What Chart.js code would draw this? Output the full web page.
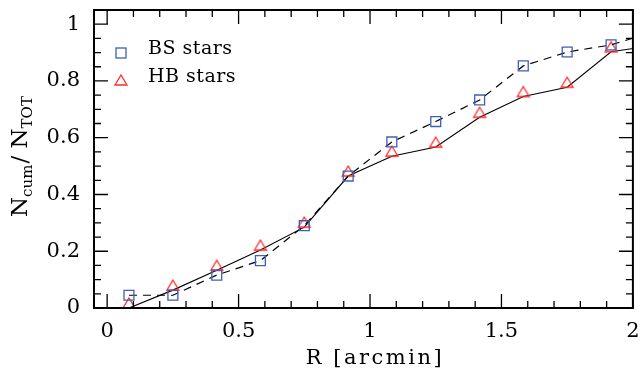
<!DOCTYPE html>
<html>
<head>
<meta charset="utf-8">
<script src="https://cdn.jsdelivr.net/npm/chart.js@4"></script>
<style>
  html, body { margin: 0; padding: 0; background: #fff; }
  #wrap { width: 642px; height: 372px; }
</style>
</head>
<body>
<div id="wrap"><canvas id="chart" width="642" height="372"></canvas></div>
<script>
// ---- data ----
const radius = [0.083, 0.25, 0.417, 0.583, 0.75, 0.917, 1.083, 1.25, 1.417, 1.583, 1.75, 1.917, 2.083];
const bsStars = [0.045, 0.045, 0.116, 0.167, 0.29, 0.465, 0.585, 0.657, 0.733, 0.853, 0.902, 0.927, 0.975];
const hbStars = [0.0, 0.063, 0.133, 0.204, 0.285, 0.465, 0.535, 0.567, 0.672, 0.745, 0.778, 0.903, 0.926];
const xTicks = [0, 0.5, 1, 1.5, 2];
const yTicks = [0, 0.2, 0.4, 0.6, 0.8, 1];

const FONT = "'DejaVu Serif', 'Liberation Serif', serif";
const BLUE = '#3f5fb5';
const RED = '#ff2a2a';

// hollow triangle whose base sits on the data point (like the original plot)
function makeTriangle() {
    const c = document.createElement('canvas');
    c.width = 16; c.height = 26;
    const g = c.getContext('2d');
    g.strokeStyle = RED;
    g.lineWidth = 1.3;
    g.beginPath();
    g.moveTo(8, 3);
    g.lineTo(14, 13);
    g.lineTo(2, 13);
    g.closePath();
    g.stroke();
    return c;
}
const triangle = makeTriangle();

// box, inward ticks, legend and axis titles
const framePlugin = {
    id: 'frame',
    afterDraw(chart) {
        const { ctx, chartArea: a, scales } = chart;
        const xs = scales.x, ys = scales.y;
        ctx.save();
        ctx.strokeStyle = '#000';

        // minor / major ticks on all four sides
        ctx.lineWidth = 1.3;
        ctx.beginPath();
        for (let i = 0; i <= 20; i++) {
            const v = i / 10;
            const px = xs.getPixelForValue(v);
            const len = (i % 5 === 0) ? 14 : 7;
            ctx.moveTo(px, a.bottom); ctx.lineTo(px, a.bottom - len);
            ctx.moveTo(px, a.top); ctx.lineTo(px, a.top + len);
        }
        for (let i = 0; i <= 21; i++) {
            const v = i * 0.05;
            const py = ys.getPixelForValue(v);
            const len = (i % 4 === 0) ? 14 : 7;
            ctx.moveTo(a.left, py); ctx.lineTo(a.left + len, py);
            ctx.moveTo(a.right, py); ctx.lineTo(a.right - len, py);
        }
        ctx.stroke();

        ctx.lineWidth = 2;
        ctx.strokeRect(a.left, a.top, a.right - a.left, a.bottom - a.top);

        // legend
        ctx.strokeStyle = BLUE;
        ctx.lineWidth = 1.3;
        ctx.strokeRect(116, 48, 10, 10);
        ctx.drawImage(triangle, 121 - 8, 85 - 13);
        ctx.fillStyle = '#000';
        ctx.font = '19px ' + FONT;
        ctx.textBaseline = 'alphabetic';
        ctx.textAlign = 'left';
        ctx.letterSpacing = '0.5px';
        ctx.fillText('BS stars', 148, 54);
        ctx.fillText('HB stars', 148, 82);

        // x title
        ctx.font = '21px ' + FONT;
        ctx.letterSpacing = '2.5px';
        ctx.textAlign = 'center';
        ctx.fillText('R [arcmin]', 375, 364);

        // y title: N_cum / N_TOT
        ctx.letterSpacing = '0px';
        ctx.translate(27, 217);
        ctx.rotate(-Math.PI / 2);
        ctx.textAlign = 'left';
        let x = 0;
        const big = '23px ' + FONT, small = '15px ' + FONT;
        ctx.font = big; ctx.fillText('N', x, 0); x += ctx.measureText('N').width;
        ctx.font = small; ctx.fillText('cum', x, 5); x += ctx.measureText('cum').width + 1;
        ctx.font = big; ctx.fillText('/', x, 0); x += ctx.measureText('/ ').width;
        ctx.fillText('N', x, 0); x += ctx.measureText('N').width;
        ctx.font = small; ctx.fillText('TOT', x, 5);
        ctx.restore();
    }
};

const ctx = document.getElementById('chart').getContext('2d');
new Chart(ctx, {
    type: 'scatter',
    data: {
        datasets: [
            {
                label: 'BS stars',
                data: radius.map((r, i) => ({ x: r, y: bsStars[i] })),
                showLine: true,
                borderColor: '#000',
                borderWidth: 1.2,
                borderDash: [8, 6],
                pointStyle: 'rect',
                pointRadius: 7,
                pointBorderColor: BLUE,
                pointBackgroundColor: 'rgba(0,0,0,0)',
                pointBorderWidth: 1.3
            },
            {
                label: 'HB stars',
                data: radius.map((r, i) => ({ x: r, y: hbStars[i] })),
                showLine: true,
                borderColor: '#000',
                borderWidth: 1.1,
                pointStyle: triangle,
                pointRadius: 8
            }
        ]
    },
    options: {
        responsive: false,
        animation: false,
        events: [],
        layout: { padding: { top: 10, right: 3, left: 0, bottom: 0 } },
        plugins: { legend: { display: false }, tooltip: { enabled: false } },
        scales: {
            x: {
                type: 'linear',
                min: -0.05,
                max: 2,
                grid: { display: false, drawTicks: false },
                border: { display: false },
                afterBuildTicks: s => { s.ticks = xTicks.map(v => ({ value: v })); },
                afterFit: s => { s.height = 64; s.paddingLeft = 0; s.paddingRight = 0; },
                ticks: {
                    font: { family: FONT, size: 21 }, color: '#000', padding: 11, maxRotation: 0,
                    callback: v => String(v)
                }
            },
            y: {
                min: 0,
                max: 1.05,
                grid: { display: false, drawTicks: false },
                border: { display: false },
                afterBuildTicks: s => { s.ticks = yTicks.map(v => ({ value: v })); },
                afterFit: s => { s.width = 94; s.paddingTop = 0; s.paddingBottom = 0; },
                ticks: {
                    font: { family: FONT, size: 21 }, color: '#000', padding: 14,
                    callback: v => String(v)
                }
            }
        }
    },
    plugins: [framePlugin]
});
</script>
</body>
</html>
